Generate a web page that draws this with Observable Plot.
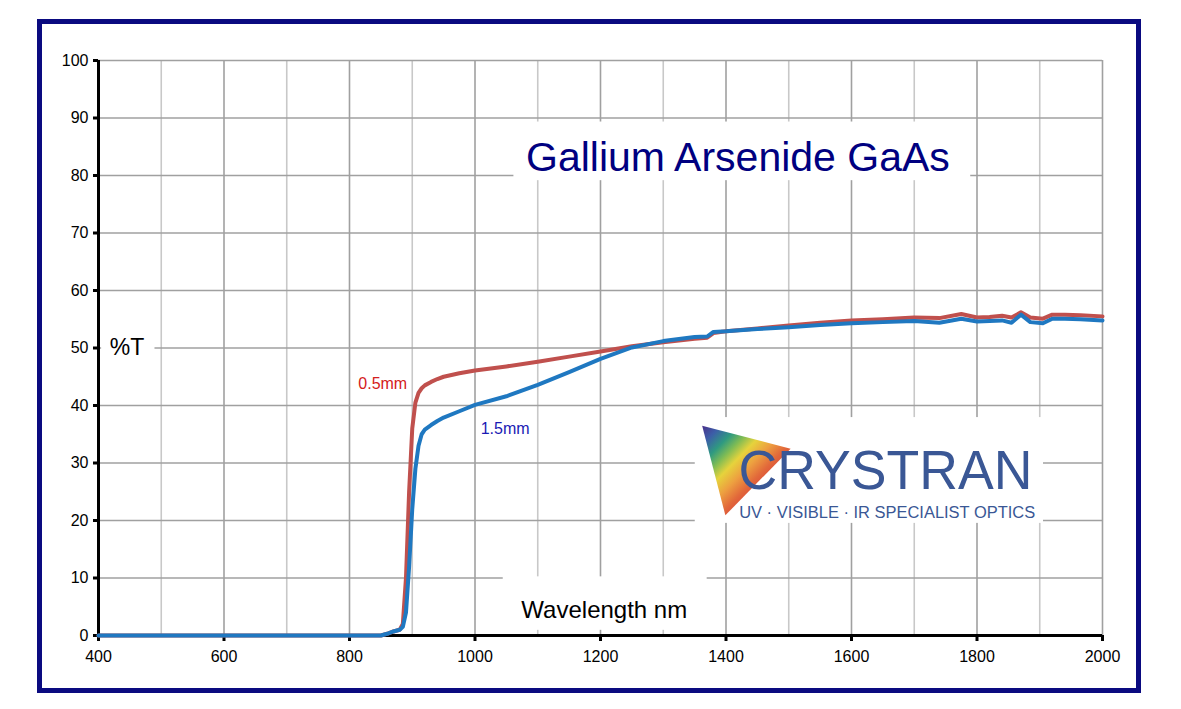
<!DOCTYPE html>
<html>
<head>
<meta charset="utf-8">
<script src="https://cdn.jsdelivr.net/npm/d3@7"></script>
<script src="https://cdn.jsdelivr.net/npm/@observablehq/plot@0.6"></script>
<style>
  html, body { margin: 0; padding: 0; background: #fff; }
  #wrap { position: relative; width: 1181px; height: 709px; overflow: hidden; background: #fff; }
  #border { position: absolute; left: 37px; top: 19px; width: 1104px; height: 674px; box-sizing: border-box; border: 5px solid #0a0a80; }
  #chart { position: absolute; left: 0; top: 0; }
</style>
</head>
<body>
<div id="wrap"><div id="border"></div><div id="chart"></div></div>
<script>
// ---- data ----
const wavelength = [400, 500, 600, 700, 800, 850, 860, 870, 880, 885, 890, 895, 900, 905, 910, 915, 920, 930, 940, 950, 975, 1000, 1050, 1100, 1150, 1200, 1250, 1300, 1350, 1370, 1380, 1400, 1450, 1500, 1550, 1600, 1650, 1700, 1740, 1775, 1800, 1820, 1840, 1855, 1870, 1885, 1905, 1920, 1940, 1965, 2000];
const t05mm = [0, 0, 0, 0, 0, 0, 0.3, 0.7, 1.0, 2, 10, 25, 36, 40.5, 42.2, 43.0, 43.5, 44.1, 44.6, 45.0, 45.6, 46.1, 46.8, 47.6, 48.5, 49.4, 50.3, 51.0, 51.6, 51.8, 52.6, 52.9, 53.4, 53.9, 54.4, 54.8, 55.0, 55.3, 55.2, 55.9, 55.3, 55.4, 55.6, 55.3, 56.2, 55.3, 55.1, 55.8, 55.8, 55.7, 55.5];
const t15mm = [0, 0, 0, 0, 0, 0, 0.3, 0.7, 1.0, 1.5, 4, 12, 22, 29, 33, 35, 35.8, 36.6, 37.3, 37.9, 39.0, 40.1, 41.6, 43.6, 45.8, 48.1, 50.1, 51.2, 51.9, 52.0, 52.8, 52.9, 53.3, 53.6, 54.0, 54.3, 54.5, 54.7, 54.4, 55.1, 54.6, 54.7, 54.8, 54.4, 55.8, 54.5, 54.3, 55.1, 55.1, 55.0, 54.8];

const xTicks = [400, 600, 800, 1000, 1200, 1400, 1600, 1800, 2000];
const xMinorGrid = [500, 700, 900, 1100, 1300, 1500, 1700, 1900];
const xMajorGrid = [600, 800, 1000, 1200, 1400, 1600, 1800, 2000];
const yTicks = [0, 10, 20, 30, 40, 50, 60, 70, 80, 90, 100];
const yGrid = [10, 20, 30, 40, 50, 60, 70, 80, 90, 100];

const titleText = "Gallium Arsenide GaAs";
const xLabelText = "Wavelength nm";
const yLabelText = "%T";
const seriesLabels = ["0.5mm", "1.5mm"];
const logoName = "CRYSTRAN";
const logoTag = "UV · VISIBLE · IR SPECIALIST OPTICS";

// white label boxes (data units)
const boxes = [
  {x1: 1062, x2: 1790, y1: 79.1, y2: 89.3},   // title
  {x1: 1351, x2: 1906, y1: 19.5, y2: 37.9},   // logo
  {x1: 1045, x2: 1370, y1: 0.9, y2: 10.2},    // x label
  {x1: 405, x2: 490, y1: 48.0, y2: 52.0}      // y label
];
const logoTriangle = [{x: 1362, y: 36.5}, {x: 1503, y: 32.5}, {x: 1399, y: 20.9}, {x: 1362, y: 36.5}];

const d05 = wavelength.map((w, i) => ({w, t: t05mm[i]}));
const d15 = wavelength.map((w, i) => ({w, t: t15mm[i]}));

const tickFont = "'Liberation Sans Narrow', 'Arial Narrow', 'Liberation Sans', Arial, sans-serif";
const sans = "'Liberation Sans', Arial, Helvetica, sans-serif";

const chart = Plot.plot({
  width: 1181,
  height: 709,
  marginLeft: 98,
  marginRight: 79,
  marginTop: 60,
  marginBottom: 74,
  style: {background: "transparent", color: "#000", fontFamily: sans},
  x: {domain: [400, 2000], label: null},
  y: {domain: [0, 100], label: null},
  marks: [
    Plot.ruleX(xMinorGrid, {stroke: "#c8c8c8", strokeWidth: 1.6}),
    Plot.ruleX(xMajorGrid, {stroke: "#a0a0a0", strokeWidth: 1.6}),
    Plot.ruleY(yGrid, {stroke: "#a0a0a0", strokeWidth: 1.6}),
    Plot.rect(boxes, {x1: "x1", x2: "x2", y1: "y1", y2: "y2", fill: "#fff"}),
    Plot.line(logoTriangle, {x: "x", y: "y", fill: "url(#rainbow)", stroke: "none"}),
    Plot.ruleX([400], {stroke: "#000", strokeWidth: 3}),
    Plot.ruleY([0], {stroke: "#000", strokeWidth: 3}),
    Plot.axisX({ticks: xTicks, tickFormat: d => String(d), tickSize: 6, tickPadding: 9, strokeWidth: 3, stroke: "#000", fontSize: 16, fontFamily: tickFont, label: null}),
    Plot.axisY({ticks: yTicks, tickFormat: d => String(d), tickSize: 5, tickPadding: 5, strokeWidth: 3, stroke: "#000", fontSize: 16, fontFamily: tickFont, label: null}),
    Plot.line(d05, {x: "w", y: "t", stroke: "#c0504d", strokeWidth: 4, strokeLinejoin: "round"}),
    Plot.line(d15, {x: "w", y: "t", stroke: "#1f78c1", strokeWidth: 4, strokeLinejoin: "round"}),
    Plot.text([titleText], {x: 1419, y: 83.1, text: d => d, fontSize: 41, fill: "#000080", textAnchor: "middle", fontFamily: sans}),
    Plot.text([xLabelText], {x: 1206, y: 4.3, text: d => d, fontSize: 24, fill: "#000", textAnchor: "middle", fontFamily: sans}),
    Plot.text([yLabelText], {x: 418, y: 50.1, text: d => d, fontSize: 23, fill: "#000", textAnchor: "start", fontFamily: sans}),
    Plot.text([seriesLabels[0]], {x: 814, y: 43.8, text: d => d, fontSize: 16, fill: "#d42020", textAnchor: "start", fontFamily: sans}),
    Plot.text([seriesLabels[1]], {x: 1009, y: 36.0, text: d => d, fontSize: 16, fill: "#1a1ab4", textAnchor: "start", fontFamily: sans}),
    Plot.text([logoName], {x: 1420, y: 28.5, text: d => d, fontSize: 55, fill: "#3a5795", textAnchor: "start", fontFamily: sans}),
    Plot.text([logoTag], {x: 1421, y: 21.3, text: d => d, fontSize: 16, fill: "#3a5795", textAnchor: "start", fontFamily: sans})
  ]
});

const svg = d3.select(chart);
svg.insert("defs", ":first-child").html(`
  <linearGradient id="rainbow" x1="0" y1="0" x2="0.7" y2="0.7">
    <stop offset="0" stop-color="#4a2f8a"/>
    <stop offset="0.15" stop-color="#3c5ea8"/>
    <stop offset="0.3" stop-color="#2f9a80"/>
    <stop offset="0.42" stop-color="#7dbb55"/>
    <stop offset="0.55" stop-color="#e6d33c"/>
    <stop offset="0.7" stop-color="#eda040"/>
    <stop offset="0.85" stop-color="#e2683a"/>
    <stop offset="1" stop-color="#d8453a"/>
  </linearGradient>`);
svg.selectAll("text").filter(function() { return this.textContent === logoName; })
  .attr("textLength", 294).attr("lengthAdjust", "spacingAndGlyphs");
svg.selectAll("text").filter(function() { return this.textContent === logoTag; })
  .attr("textLength", 296).attr("lengthAdjust", "spacingAndGlyphs");

document.getElementById("chart").appendChild(chart);
</script>
</body>
</html>
